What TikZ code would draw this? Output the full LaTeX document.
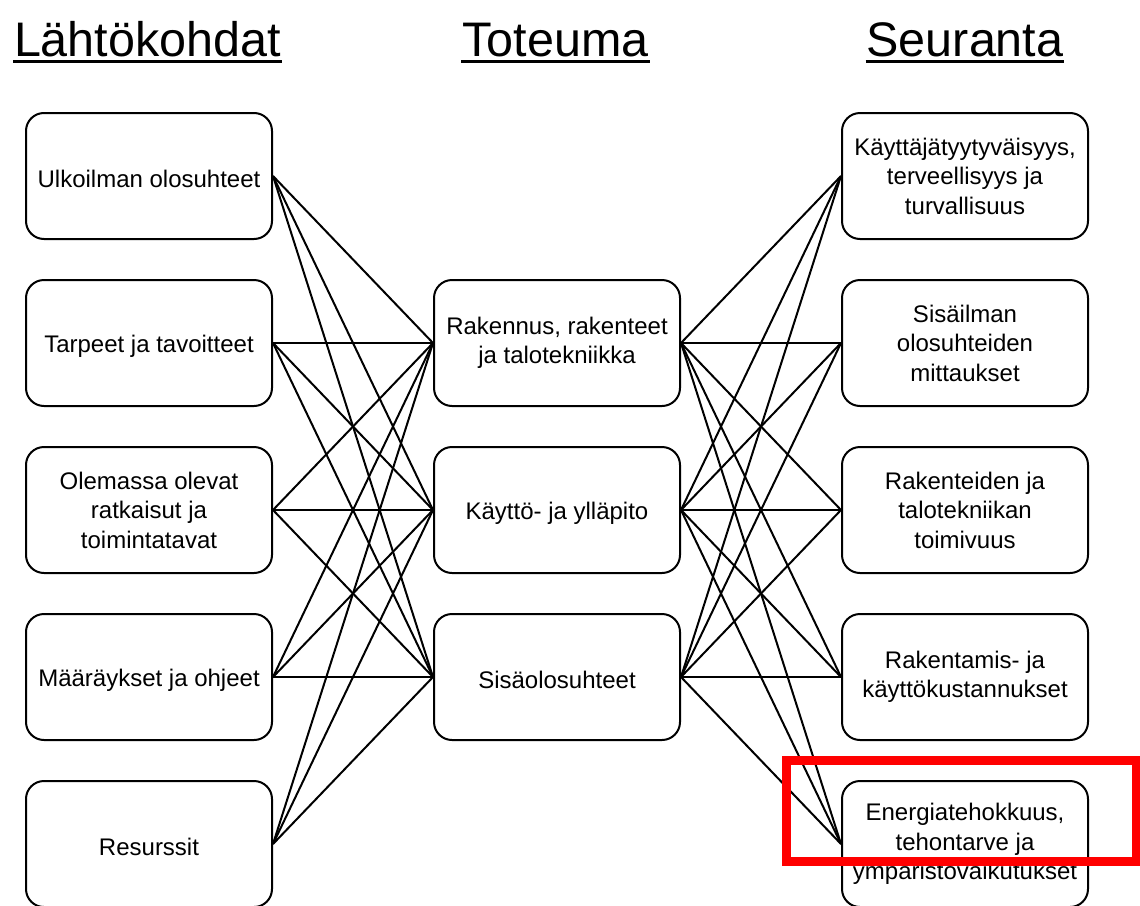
\documentclass[tikz,border=0pt]{standalone}
\usepackage{fontspec}
\setmainfont{Liberation Sans}
\usetikzlibrary{positioning}

\begin{document}
\begin{tikzpicture}[x=1pt, y=-1pt, node distance=167pt, line width=2pt,
    box/.style={draw, rectangle, rounded corners=18pt, minimum width=246pt, minimum height=126pt, align=center, font=\fontsize{24}{29.5}\selectfont, execute at begin node=\rule{0pt}{24pt}},
    heading/.style={font=\fontsize{48.5}{58}\selectfont, inner sep=0pt, anchor=base}]
    \useasboundingbox (0,0) rectangle (1140,905);

    % otsikot
    \node (lahto) [heading] at (147.5,56) {Lähtökohdat};
    \node (toteuma) [heading] at (555.5,56) {Toteuma};
    \node (seuranta) [heading] at (965,56) {Seuranta};
    \draw[line width=3pt] ([yshift=-5pt]lahto.base west) -- ([yshift=-5pt]lahto.base east);
    \draw[line width=3pt] ([yshift=-5pt]toteuma.base west) -- ([yshift=-5pt]toteuma.base east);
    \draw[line width=3pt] ([yshift=-5pt]seuranta.base west) -- ([yshift=-5pt]seuranta.base east);

    % lahtokohdat
    \node (ulko) [box] at (149,176) {Ulkoilman olosuhteet};
    \node (tarpeet) [box, below of=ulko] {Tarpeet ja tavoitteet};
    \node (olemassa) [box, below of=tarpeet] {Olemassa olevat\\ ratkaisut ja\\ toimintatavat};
    \node (maarays) [box, below of=olemassa] {Määräykset ja ohjeet};
    \node (resurssit) [box, below of=maarays] {Resurssit};

    % toteuma
    \node (rakennus) [box] at (557,343) {Rakennus, rakenteet\\ ja talotekniikka};
    \node (kaytto) [box, below of=rakennus] {Käyttö- ja ylläpito};
    \node (sisa) [box, below of=kaytto] {Sisäolosuhteet};

    % seuranta
    \node (tyytyv) [box] at (965,176) {Käyttäjätyytyväisyys,\\ terveellisyys ja\\ turvallisuus};
    \node (sisailma) [box, below of=tyytyv] {Sisäilman\\ olosuhteiden\\ mittaukset};
    \node (toimivuus) [box, below of=sisailma] {Rakenteiden ja\\ talotekniikan\\ toimivuus};
    \node (kustannus) [box, below of=toimivuus] {Rakentamis- ja\\ käyttökustannukset};
    \node (energia) [box, below of=kustannus] {Energiatehokkuus,\\ tehontarve ja\\ ympäristövaikutukset};

    \draw (ulko.east) -- (rakennus.west);
    \draw (ulko.east) -- (kaytto.west);
    \draw (ulko.east) -- (sisa.west);
    \draw (tarpeet.east) -- (rakennus.west);
    \draw (tarpeet.east) -- (kaytto.west);
    \draw (tarpeet.east) -- (sisa.west);
    \draw (olemassa.east) -- (rakennus.west);
    \draw (olemassa.east) -- (kaytto.west);
    \draw (olemassa.east) -- (sisa.west);
    \draw (maarays.east) -- (rakennus.west);
    \draw (maarays.east) -- (kaytto.west);
    \draw (maarays.east) -- (sisa.west);
    \draw (resurssit.east) -- (rakennus.west);
    \draw (resurssit.east) -- (kaytto.west);
    \draw (resurssit.east) -- (sisa.west);

    \draw (rakennus.east) -- (tyytyv.west);
    \draw (rakennus.east) -- (sisailma.west);
    \draw (rakennus.east) -- (toimivuus.west);
    \draw (rakennus.east) -- (kustannus.west);
    \draw (rakennus.east) -- (energia.west);
    \draw (kaytto.east) -- (tyytyv.west);
    \draw (kaytto.east) -- (sisailma.west);
    \draw (kaytto.east) -- (toimivuus.west);
    \draw (kaytto.east) -- (kustannus.west);
    \draw (kaytto.east) -- (energia.west);
    \draw (sisa.east) -- (tyytyv.west);
    \draw (sisa.east) -- (sisailma.west);
    \draw (sisa.east) -- (toimivuus.west);
    \draw (sisa.east) -- (kustannus.west);
    \draw (sisa.east) -- (energia.west);

    % korostus
    \draw[red, line width=9pt] (786.5,760) rectangle (1136,861.5);
\end{tikzpicture}
\end{document}
